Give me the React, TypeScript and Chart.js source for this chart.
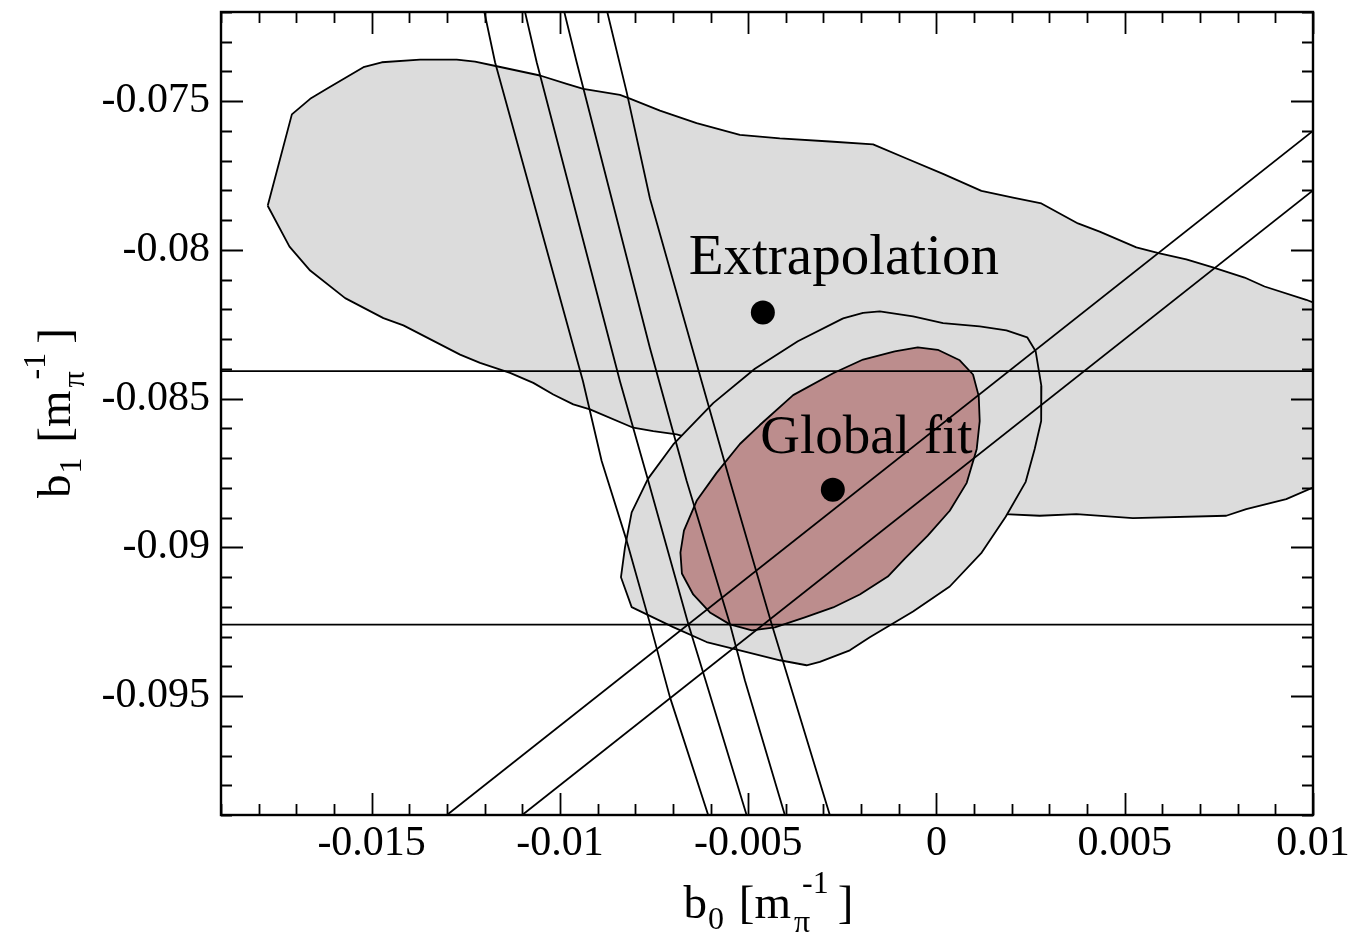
import React, { useEffect, useRef } from "react";
import { Chart, registerables } from "chart.js";

Chart.register(...registerables);

// ---------------- axis ticks ----------------
const xTickValues = [-0.015, -0.01, -0.005, 0, 0.005, 0.01];
const xTickLabels = ["-0.015", "-0.01", "-0.005", "0", "0.005", "0.01"];
const yTickValues = [-0.075, -0.08, -0.085, -0.09, -0.095];
const yTickLabels = ["-0.075", "-0.08", "-0.085", "-0.09", "-0.095"];
const xRange = [-0.019, 0.01];
const yRange = [-0.099, -0.072];

// ---------------- Extrapolation region ----------------
const extrapB0 = [
  -0.01776, -0.017118, -0.016632, -0.016189, -0.015218, -0.014729, -0.013713, -0.012739,
  -0.012253, -0.011677, -0.010528, -0.00982, -0.009379, -0.008405, -0.00814, -0.007343,
  -0.006369, -0.00522, -0.004159, -0.002832, -0.001683, -0.000796, 0.000175, 0.001194,
  0.002033, 0.002787, 0.003758, 0.004334, 0.005308, 0.005926, 0.006635, 0.007341,
  0.008182, 0.008713, 0.00982, 0.01, 0.01, 0.009289, 0.008227, 0.007696,
  0.005218, 0.003716, 0.002741, 0.001813, 0.000353, -0.00177, -0.004159, -0.006282,
  -0.0069, -0.007521, -0.008052, -0.009201, -0.009644, -0.010175, -0.010706, -0.011324,
  -0.01212, -0.012651, -0.014156, -0.014687, -0.015703, -0.016632, -0.017181, -0.01776,
];
const extrapB1 = [
  -0.078515, -0.075442, -0.07492, -0.074584, -0.073857, -0.07369, -0.073599, -0.073599,
  -0.073666, -0.073824, -0.074135, -0.074417, -0.074584, -0.074786, -0.074913, -0.075315,
  -0.075734, -0.076129, -0.076247, -0.076354, -0.076451, -0.076927, -0.077443, -0.078013,
  -0.078244, -0.078438, -0.079109, -0.079387, -0.079913, -0.080114, -0.080315, -0.080583,
  -0.080928, -0.08123, -0.081676, -0.081766, -0.087989, -0.088378, -0.088713, -0.088938,
  -0.089015, -0.088881, -0.088938, -0.088881, -0.088603, -0.087932, -0.087095, -0.086424,
  -0.0862, -0.086089, -0.085978, -0.085362, -0.085194, -0.084859, -0.084471, -0.084135,
  -0.0838, -0.083519, -0.082537, -0.082292, -0.081622, -0.080694, -0.079889, -0.078515,
];

// ---------------- Global fit, outer (2 sigma) ----------------
const outerB0 = [
  -0.002479, -0.001948, -0.001505, -0.000621, 0.000175, 0.001149, 0.001858, 0.00241,
  0.002635, 0.002787, 0.002781, 0.002609, 0.00237, 0.001839, 0.001202, 0.000353,
  -0.000621, -0.00177, -0.002301, -0.003097, -0.00345, -0.004159, -0.00522, -0.006104,
  -0.00699, -0.008094, -0.008378, -0.008272, -0.008094, -0.007662, -0.00699, -0.005929,
  -0.004822, -0.003681, -0.002479,
];
const outerB1 = [
  -0.082302, -0.082118, -0.082068, -0.082235, -0.08246, -0.08257, -0.082704, -0.082939,
  -0.083408, -0.084581, -0.085754, -0.086692, -0.087798, -0.088971, -0.090177, -0.091317,
  -0.092155, -0.093026, -0.093462, -0.093854, -0.093965, -0.093797, -0.093462, -0.093184,
  -0.092681, -0.092011, -0.091005, -0.09, -0.088827, -0.087698, -0.086542, -0.085151,
  -0.083995, -0.083073, -0.082302,
];

// ---------------- Global fit, inner (1 sigma) ----------------
const innerB0 = [
  -0.001107, -0.000496, 0.000035, 0.000618, 0.000971, 0.001123, 0.001149, 0.00107,
  0.000804, 0.000353, -0.000231, -0.000841, -0.001292, -0.002036, -0.002744, -0.003495,
  -0.004291, -0.004902, -0.005486, -0.006016, -0.00646, -0.00676, -0.006799, -0.006706,
  -0.006369, -0.005839, -0.00522, -0.00469, -0.003806, -0.002744, -0.001948, -0.001107,
];
const innerB1 = [
  -0.083408, -0.083274, -0.083358, -0.08371, -0.084189, -0.084916, -0.085754, -0.086692,
  -0.087832, -0.08877, -0.089608, -0.090379, -0.090982, -0.091585, -0.092021, -0.092356,
  -0.092691, -0.092792, -0.092591, -0.092188, -0.091585, -0.090881, -0.090177, -0.08944,
  -0.088435, -0.087497, -0.086525, -0.085888, -0.084883, -0.084145, -0.083686, -0.083408,
];

// ---------------- steep band lines ----------------
const band1B0 = [-0.012006, -0.011722, -0.009387, -0.008891, -0.008227, -0.007609, -0.007078, -0.006062];
const band1B1 = [-0.072, -0.07369, -0.084414, -0.087095, -0.089775, -0.092557, -0.095037, -0.099];
const band2B0 = [-0.010926, -0.010616, -0.008405, -0.007654, -0.006592, -0.006149, -0.005042];
const band2B1 = [-0.072, -0.07369, -0.084414, -0.087765, -0.092567, -0.0944, -0.099];
const band3B0 = [-0.009883, -0.009554, -0.007609, -0.006635, -0.005486, -0.005088, -0.004026];
const band3B1 = [-0.072, -0.07369, -0.083298, -0.087765, -0.092567, -0.094467, -0.099];
const band4B0 = [-0.008742, -0.008227, -0.007609, -0.006237, -0.005486, -0.004379, -0.002832];
const band4B1 = [-0.072, -0.074695, -0.078271, -0.084414, -0.087765, -0.092567, -0.099];

// ---------------- diagonal band ----------------
const diagAB0 = [-0.013, 0.01];
const diagAB1 = [-0.099, -0.076];
const diagBB0 = [-0.011, 0.01];
const diagBB1 = [-0.099, -0.078];

// ---------------- horizontal band ----------------
const horizB0 = [-0.019, 0.01];
const horizUpperB1 = [-0.084078, -0.084078];
const horizLowerB1 = [-0.0926, -0.0926];

// ---------------- central points & labels ----------------
const pointNames = ["Extrapolation", "Global fit"];
const pointB0 = [-0.00461, -0.002752];
const pointB1 = [-0.082101, -0.088066];
const labelB0 = [-0.00246, -0.001858];
const labelB1 = [-0.080811, -0.086843];
const labelSizes = [57, 55];

const GRAY = "#dcdcdc";
const RED = "#bc8d8d";
const SERIF = '"Liberation Serif", "Times New Roman", serif';

const mk = (xs: number[], ys: number[]) => xs.map((x, i) => ({ x, y: ys[i] }));

const lineDs = (data: any[], order: number, polyFill?: string) => ({
  data,
  showLine: true,
  borderColor: "#000",
  borderWidth: 1.8,
  pointRadius: 0,
  pointHoverRadius: 0,
  tension: 0,
  fill: false,
  borderJoinStyle: "round",
  order,
  polyFill,
});

const polyFillPlugin = {
  id: "polyFill",
  beforeDatasetDraw(chart: any, args: any) {
    const ds = chart.data.datasets[args.index];
    if (!ds.polyFill) return;
    const pts = args.meta.data;
    if (!pts || !pts.length) return;
    const { ctx, chartArea: a } = chart;
    ctx.save();
    ctx.beginPath();
    ctx.rect(a.left, a.top, a.right - a.left, a.bottom - a.top);
    ctx.clip();
    ctx.beginPath();
    pts.forEach((p: any, i: number) => (i === 0 ? ctx.moveTo(p.x, p.y) : ctx.lineTo(p.x, p.y)));
    ctx.closePath();
    ctx.fillStyle = ds.polyFill;
    ctx.fill();
    ctx.restore();
  },
};

function drawRichTitle(ctx: CanvasRenderingContext2D, sub: string) {
  const big = `47px ${SERIF}`;
  const small = `32px ${SERIF}`;
  const w = (t: string, f: string) => {
    ctx.font = f;
    return ctx.measureText(t).width;
  };
  const wb = w("b", big);
  const ws = w(sub, small);
  const wsp = w(" ", big) + 3;
  const wm = w("[m", big);
  const wpi = w("π", small);
  const wexp = w("-1", small);
  const expDx = 8;
  const wstack = Math.max(wpi, expDx + wexp);
  const wbr = w("]", big);
  const gap = 3;
  const gap2 = 9;
  const total = wb + ws + wsp + wm + gap + wstack + gap2 + wbr;
  let x = -total / 2;
  ctx.textBaseline = "alphabetic";
  ctx.textAlign = "left";
  ctx.fillStyle = "#000";
  ctx.font = big;
  ctx.fillText("b", x, 0);
  x += wb + 1;
  ctx.font = small;
  ctx.fillText(sub, x, 11);
  x += ws + wsp;
  ctx.font = big;
  ctx.fillText("[m", x, 0);
  x += wm + gap;
  ctx.font = small;
  ctx.fillText("π", x, 14);
  ctx.fillText("-1", x + expDx, -25);
  x += wstack + gap2;
  ctx.font = big;
  ctx.fillText("]", x, 0);
}

const decorPlugin = {
  id: "decor",
  afterDatasetsDraw(chart: any) {
    const { ctx } = chart;
    const xs = chart.scales.x;
    const ys = chart.scales.y;
    ctx.save();
    ctx.fillStyle = "#000";
    ctx.textAlign = "center";
    ctx.textBaseline = "alphabetic";
    pointNames.forEach((name, i) => {
      ctx.font = `${labelSizes[i]}px ${SERIF}`;
      ctx.fillText(name, xs.getPixelForValue(labelB0[i]), ys.getPixelForValue(labelB1[i]));
    });
    ctx.restore();
  },
  afterDraw(chart: any) {
    const { ctx, chartArea: a } = chart;
    const xs = chart.scales.x;
    const ys = chart.scales.y;
    ctx.save();
    ctx.strokeStyle = "#000";
    ctx.lineWidth = 1.8;
    ctx.beginPath();
    for (let i = -19; i <= 10; i++) {
      const px = Math.round(xs.getPixelForValue(i / 1000)) + 0.5;
      const L = i % 5 === 0 ? 22 : 11;
      ctx.moveTo(px, a.bottom);
      ctx.lineTo(px, a.bottom - L);
      ctx.moveTo(px, a.top);
      ctx.lineTo(px, a.top + L);
    }
    for (let j = -99; j <= -72; j++) {
      const py = Math.round(ys.getPixelForValue(j / 1000)) + 0.5;
      const L = j % 5 === 0 ? 22 : 11;
      ctx.moveTo(a.left, py);
      ctx.lineTo(a.left + L, py);
      ctx.moveTo(a.right, py);
      ctx.lineTo(a.right - L, py);
    }
    ctx.stroke();
    ctx.lineWidth = 2.4;
    ctx.strokeRect(a.left, a.top, a.right - a.left, a.bottom - a.top);

    // axis titles
    ctx.save();
    ctx.translate((a.left + a.right) / 2 + 1, 918);
    drawRichTitle(ctx, "0");
    ctx.restore();
    ctx.save();
    ctx.translate(70, (a.top + a.bottom) / 2);
    ctx.rotate(-Math.PI / 2);
    drawRichTitle(ctx, "1");
    ctx.restore();
    ctx.restore();
  },
};

export default function App() {
  const ref = useRef<HTMLCanvasElement>(null);
  useEffect(() => {
    const canvas = ref.current!;
    const tickFont = { family: SERIF, size: 42 };
    const chart = new Chart(canvas, {
      type: "scatter",
      data: {
        datasets: [
          lineDs(mk(extrapB0, extrapB1), 30, GRAY),
          lineDs(mk(outerB0, outerB1), 29, GRAY),
          lineDs(mk(innerB0, innerB1), 28, RED),
          lineDs(mk(band1B0, band1B1), 10),
          lineDs(mk(band2B0, band2B1), 10),
          lineDs(mk(band3B0, band3B1), 10),
          lineDs(mk(band4B0, band4B1), 10),
          lineDs(mk(diagAB0, diagAB1), 10),
          lineDs(mk(diagBB0, diagBB1), 10),
          lineDs(mk(horizB0, horizUpperB1), 10),
          lineDs(mk(horizB0, horizLowerB1), 10),
          {
            data: mk(pointB0, pointB1),
            showLine: false,
            pointRadius: 12,
            pointHoverRadius: 12,
            pointBackgroundColor: "#000",
            pointBorderWidth: 0,
            borderColor: "#000",
            order: 1,
          },
        ] as any,
      },
      options: {
        responsive: false,
        animation: false,
        devicePixelRatio: 1,
        events: [],
        layout: { padding: { top: 10, right: 41, left: 0, bottom: 0 } },
        plugins: { legend: { display: false }, tooltip: { enabled: false } },
        scales: {
          x: {
            type: "linear",
            position: "bottom",
            min: xRange[0],
            max: xRange[1],
            bounds: "data",
            afterBuildTicks: (s: any) => {
              s.ticks = xTickValues.map((v) => ({ value: v }));
            },
            afterFit: (s: any) => {
              s.height = 126;
              s.paddingLeft = 0;
              s.paddingRight = 0;
              s.paddingTop = 0;
              s.paddingBottom = 0;
            },
            ticks: {
              callback: (_v: any, i: number) => xTickLabels[i],
              font: tickFont,
              color: "#000",
              padding: 4,
              maxRotation: 0,
              minRotation: 0,
              autoSkip: false,
            },
            grid: { display: false, drawTicks: false, tickLength: 0 },
            border: { display: false },
          },
          y: {
            type: "linear",
            position: "left",
            min: yRange[0],
            max: yRange[1],
            bounds: "data",
            afterBuildTicks: (s: any) => {
              s.ticks = yTickValues.map((v) => ({ value: v }));
            },
            afterFit: (s: any) => {
              s.width = 221;
              s.paddingLeft = 0;
              s.paddingRight = 0;
              s.paddingTop = 0;
              s.paddingBottom = 0;
            },
            ticks: {
              callback: (_v: any, i: number) => yTickLabels[i],
              font: tickFont,
              color: "#000",
              padding: 11,
              autoSkip: false,
            },
            grid: { display: false, drawTicks: false, tickLength: 0 },
            border: { display: false },
          },
        },
      } as any,
      plugins: [polyFillPlugin, decorPlugin],
    });
    return () => chart.destroy();
  }, []);
  return (
    <div style={{ position: "absolute", left: 0, top: 0, width: 1354, height: 941, background: "#fff" }}>
      <canvas ref={ref} width={1354} height={941} style={{ display: "block", width: 1354, height: 941 }} />
    </div>
  );
}
